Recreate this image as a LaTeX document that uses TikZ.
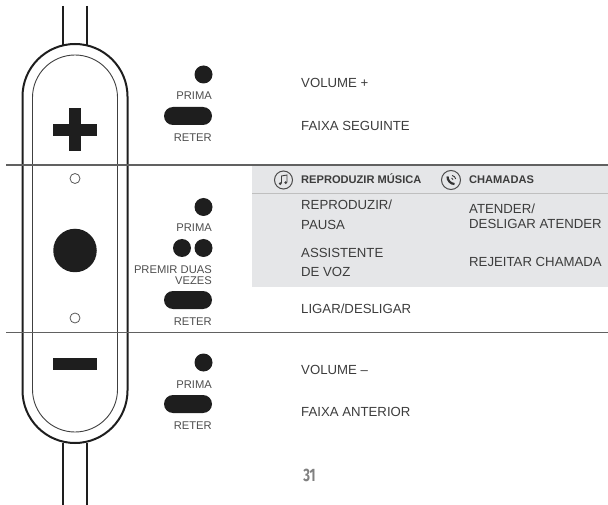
\documentclass[tikz,border=0pt]{standalone}
\usepackage{fontspec}
\setmainfont{Liberation Sans}
\newfontfamily\numfont{Fira Sans}
\definecolor{txt}{HTML}{3C3C3C}
\definecolor{lab}{HTML}{4E4E4E}
\definecolor{panel}{HTML}{E5E6E8}
\definecolor{ink}{HTML}{1E1E1E}
\usetikzlibrary{shapes.misc}
\tikzset{
  body/.style={inner sep=0pt,anchor=west,text=txt,font=\fontsize{13.2}{13.2}\selectfont,text height=9.4pt,text depth=0pt},
  head/.style={inner sep=0pt,anchor=west,text=txt,font=\fontsize{11.1}{11.1}\selectfont\bfseries,text height=7.9pt,text depth=0pt},
  small/.style={inner sep=0pt,anchor=east,text=lab,font=\fontsize{11.2}{11.2}\selectfont,text height=8pt,text depth=0pt},
  dot/.style={circle,fill=ink,inner sep=0pt,minimum size=18pt},
  pill/.style={rounded rectangle,fill=ink,inner sep=0pt,minimum width=48pt,minimum height=18pt},
  shell/.style={draw=ink,line width=2pt},
  liner/.style={draw=ink!85,line width=0.9pt},
  rule/.style={draw=black!62,line width=1.3pt},
  led/.style={circle,draw=black!65,fill=white,line width=0.8pt,inner sep=0pt,minimum size=10pt},
  icon/.style={draw=black!70,line width=1pt},
  glyph/.style={fill=ink,draw=none}
}
\begin{document}
\begin{tikzpicture}[x=1pt,y=-1pt]
\useasboundingbox (0,0) rectangle (608,505);
% panel
\fill[panel] (252,165) rectangle (608,287);
\draw[draw=black!25,line width=1pt] (252,194) -- (608,194);
% cables
\draw[shell] (63,6) -- (63,45);
\draw[shell] (87,6) -- (87,45);
\draw[shell] (63,443) -- (63,505);
\draw[shell] (87,443) -- (87,505);
% body
\draw[shell] (22.5,96.5) arc[start angle=180,end angle=0,x radius=52.5,y radius=-52.5]
  -- (127.5,390.5) arc[start angle=0,end angle=-180,x radius=52.5,y radius=-52.5] -- cycle;
\draw[liner] (32.5,97.5) arc[start angle=180,end angle=0,x radius=42.5,y radius=-42.5]
  -- (117.5,389.5) arc[start angle=0,end angle=-180,x radius=42.5,y radius=-42.5] -- cycle;
% rules
\draw[rule] (6,165) -- (608,165);
\draw[rule] (6,332.5) -- (608,332.5);
% buttons
\fill[glyph] (53,124) rectangle (97,136);
\fill[glyph] (69,108) rectangle (81,151.5);
\fill[glyph] (53,358) rectangle (97,370);
\node[led] (ledA) at (75,178.5) {};
\node[led] (ledB) at (75,318) {};
\node[circle,fill=ink,inner sep=0pt,minimum size=43.5pt] (mainbtn) at (75,250.5) {};
% gesture key
\node[dot] (d1) at (203.5,74.5) {};
\node[small] (l1) at (212,95.5) {PRIMA};
\node[pill] (p1) at (188,116) {};
\node[small] (l2) at (212,137.5) {RETER};
\node[dot] (d2) at (203.5,207) {};
\node[small] (l3) at (212,227.5) {PRIMA};
\node[dot] (d3a) at (182,248) {};
\node[dot] (d3b) at (203.5,248) {};
\node[small] (l4) at (212,269.5) {PREMIR DUAS};
\node[small] (l5) at (212,280) {VEZES};
\node[pill] (p2) at (188,300) {};
\node[small] (l6) at (212,321.5) {RETER};
\node[dot] (d4) at (203.5,362.5) {};
\node[small] (l7) at (212,384) {PRIMA};
\node[pill] (p3) at (188,404) {};
\node[small] (l8) at (212,425) {RETER};
% texts
\node[body] (t1) at (301,83) {VOLUME +};
\node[body] (t2) at (301,126) {FAIXA SEGUINTE};
\node[head] (h1) at (301,180) {REPRODUZIR MÚSICA};
\node[head] (h2) at (469,180) {CHAMADAS};
\node[body] (t3) at (301,204.5) {REPRODUZIR/};
\node[body] (t4) at (301,225) {PAUSA};
\node[body] (t5) at (469,209) {ATENDER/};
\node[body] (t6) at (469,224) {DESLIGAR ATENDER};
\node[body] (t7) at (301,253) {ASSISTENTE};
\node[body] (t8) at (301,272) {DE VOZ};
\node[body] (t9) at (469,262) {REJEITAR CHAMADA};
\node[body] (t10) at (301,309) {LIGAR/DESLIGAR};
\node[body] (t11) at (301,370) {VOLUME –};
\node[body] (t12) at (301,412) {FAIXA ANTERIOR};
\node[inner sep=0pt,text=black!50,font=\numfont\bfseries\fontsize{18}{18}\selectfont] (pg) at (309.5,475) {\scalebox{0.72}[1]{31}};
% music icon
\draw[icon] (283.5,180) circle[radius=9];
\draw[draw=black!75,line width=0.9pt] (281.5,183.5) -- (281.5,176) -- (287,175) -- (287,182.5);
\fill[black!75] (280.2,183.7) circle[radius=1.5] (285.7,182.7) circle[radius=1.5];
% phone icon
\draw[icon] (451,180) circle[radius=9.5];
\draw[draw=black!80,line width=2.2pt] (447.5,176.5) .. controls (447.5,180.5) and (450.5,184) .. (454.5,184);
\draw[draw=black!80,line width=0.9pt] (452,175.5) .. controls (454,175.7) and (455.5,177.5) .. (455.7,179);
\draw[draw=black!80,line width=0.9pt] (451.6,178) .. controls (452.4,178.1) and (453,178.8) .. (453.1,179.5);
\end{tikzpicture}
\end{document}
